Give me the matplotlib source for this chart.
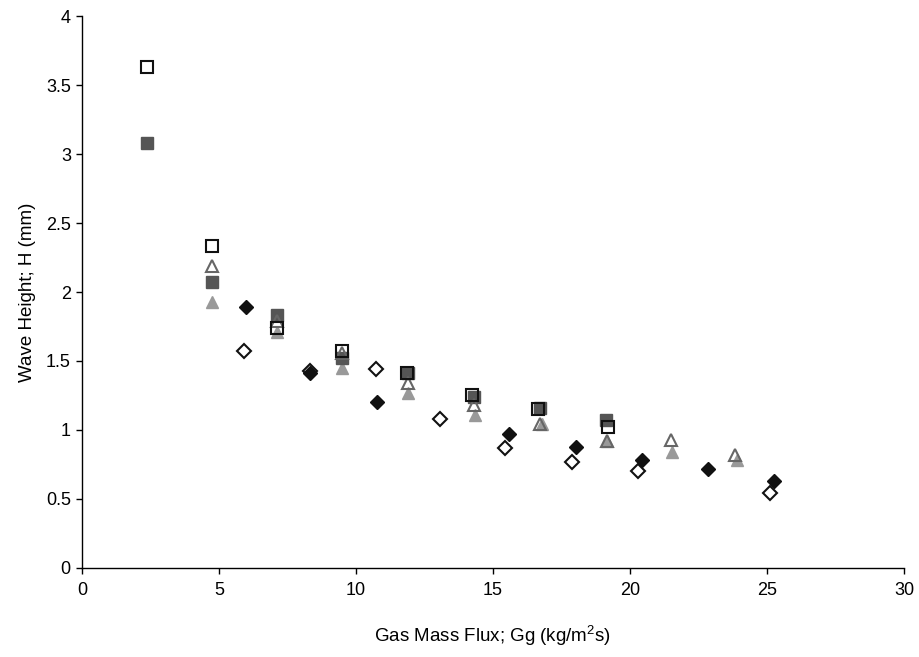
import matplotlib
matplotlib.use("Agg")
import matplotlib.pyplot as plt

plt.rcParams['font.family'] = ['Liberation Sans', 'DejaVu Sans']
plt.rcParams['mathtext.fontset'] = 'custom'
plt.rcParams['mathtext.rm'] = 'Liberation Sans'
plt.rcParams['mathtext.it'] = 'Liberation Sans'
plt.rcParams['mathtext.default'] = 'regular'

# Open squares
sq_open_x = [2.37, 4.74, 7.12, 9.49, 11.86, 14.23, 16.64, 19.2]
sq_open_y = [3.63, 2.33, 1.74, 1.57, 1.41, 1.25, 1.15, 1.02]
# Filled squares
sq_fill_x = [2.37, 4.74, 7.12, 9.5, 11.9, 14.3, 16.7, 19.12]
sq_fill_y = [3.08, 2.07, 1.83, 1.52, 1.41, 1.24, 1.16, 1.07]
# Open triangles
tri_open_x = [4.74, 7.12, 9.5, 11.9, 14.3, 16.7, 19.15, 21.5, 23.83]
tri_open_y = [2.19, 1.79, 1.56, 1.34, 1.18, 1.04, 0.92, 0.93, 0.82]
# Filled triangles
tri_fill_x = [4.74, 7.12, 9.5, 11.9, 14.35, 16.8, 19.15, 21.55, 23.9]
tri_fill_y = [1.93, 1.71, 1.45, 1.27, 1.11, 1.04, 0.92, 0.84, 0.78]
# Filled diamonds
dia_fill_x = [5.99, 8.32, 10.77, 15.58, 18.03, 20.44, 22.85, 25.26]
dia_fill_y = [1.89, 1.41, 1.20, 0.97, 0.88, 0.78, 0.72, 0.63]
# Open diamonds
dia_open_x = [5.91, 8.32, 10.73, 13.07, 15.44, 17.88, 20.29, 25.1]
dia_open_y = [1.57, 1.43, 1.44, 1.08, 0.87, 0.77, 0.70, 0.54]

x_ticks = [0, 5, 10, 15, 20, 25, 30]
y_ticks = [0, 0.5, 1, 1.5, 2, 2.5, 3, 3.5, 4]
y_tick_labels = ['0', '0.5', '1', '1.5', '2', '2.5', '3', '3.5', '4']

fig = plt.figure(figsize=(9.19, 6.57), dpi=100)
ax = fig.add_axes([0.0892, 0.1355, 0.8945, 0.8401])

ax.plot(tri_fill_x, tri_fill_y, linestyle='none', marker='^', markersize=8,
        markerfacecolor='#999999', markeredgecolor='#999999', markeredgewidth=1)
ax.plot(sq_fill_x, sq_fill_y, linestyle='none', marker='s', markersize=8,
        markerfacecolor='#555555', markeredgecolor='#555555', markeredgewidth=1)
ax.plot(tri_open_x, tri_open_y, linestyle='none', marker='^', markersize=8,
        markerfacecolor='none', markeredgecolor='#666666', markeredgewidth=1.5)
ax.plot(sq_open_x, sq_open_y, linestyle='none', marker='s', markersize=8,
        markerfacecolor='none', markeredgecolor='#111111', markeredgewidth=1.5)
ax.plot(dia_open_x, dia_open_y, linestyle='none', marker='D', markersize=7,
        markerfacecolor='white', markeredgecolor='#111111', markeredgewidth=1.5)
ax.plot(dia_fill_x, dia_fill_y, linestyle='none', marker='D', markersize=7,
        markerfacecolor='#111111', markeredgecolor='#111111', markeredgewidth=1)

ax.set_xlim(0, 30)
ax.set_ylim(0, 4)
ax.set_xticks(x_ticks)
ax.set_yticks(y_ticks)
ax.set_yticklabels(y_tick_labels)
ax.spines['top'].set_visible(False)
ax.spines['right'].set_visible(False)
for s in ['left', 'bottom']:
    ax.spines[s].set_linewidth(1.0)
ax.tick_params(direction='out', length=4, width=1, labelsize=13)
ax.tick_params(axis='y', pad=4)
ax.tick_params(axis='x', pad=6)

ax.set_xlabel('Gas Mass Flux; Gg (kg/m$^{2}$s)', fontsize=13.5, labelpad=18)
ax.set_ylabel('Wave Height; H (mm)', fontsize=13.5, labelpad=7)

fig.savefig('out.png', dpi=100)
